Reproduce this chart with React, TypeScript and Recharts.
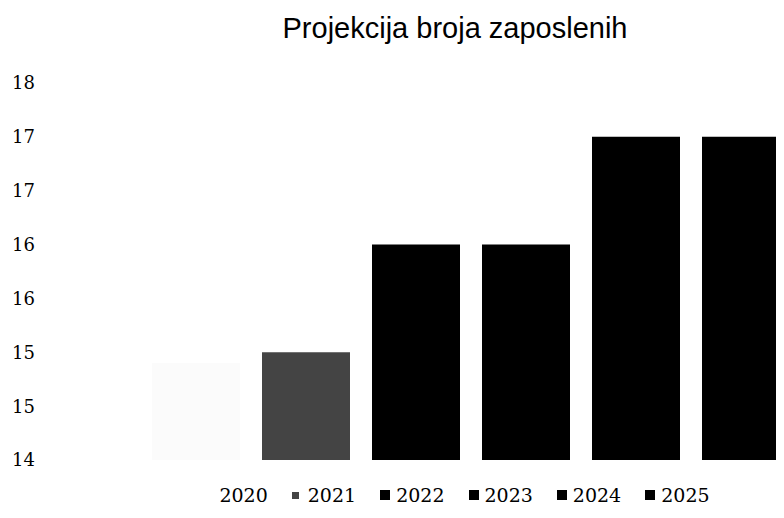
import React from 'react';
import { BarChart, Bar, XAxis, YAxis, Legend } from 'recharts';

// Podaci sa grafikona
const years = ['2020', '2021', '2022', '2023', '2024', '2025'];
const employees = [14.9, 15, 16, 16, 17, 17];
const barColors = ['#fbfbfb', '#444444', '#000000', '#000000', '#000000', '#000000'];
const legendColors = ['#ffffff', '#444444', '#000000', '#000000', '#000000', '#000000'];
const yTicks = [14, 14.5, 15, 15.5, 16, 16.5, 17, 17.5];

const title = 'Projekcija broja zaposlenih';

// jedan red, svaka godina je posebna serija
const row: Record<string, string | number> = { name: 'Zaposleni' };
years.forEach((y, i) => {
  row[y] = employees[i];
});
const data = [row];

const serif = '"DejaVu Serif", serif';

// Legenda bez visine da ne pomjera grafikon
const renderLegend = () => (
  <div style={{ position: 'relative', height: 0 }}>
    <div
      style={{
        position: 'absolute',
        top: 24,
        left: 0,
        width: '100%',
        paddingLeft: 14,
        boxSizing: 'border-box',
        display: 'flex',
        justifyContent: 'center',
        fontFamily: serif,
        fontSize: 19,
        lineHeight: '22px',
        color: '#000',
      }}
    >
      {years.map((y, i) => (
        <div key={y} style={{ display: 'flex', alignItems: 'center', marginRight: i < years.length - 1 ? 24 : 0 }}>
          <span
            style={{
              display: 'inline-block',
              width: i === 1 ? 7 : 10,
              height: i === 1 ? 7 : 10,
              background: legendColors[i],
              marginRight: i === 1 ? 9 : 6,
            }}
          />
          <span>{y}</span>
        </div>
      ))}
    </div>
  </div>
);

export default function App() {
  return (
    <div style={{ margin: -8, width: 784, height: 518, overflow: 'hidden', position: 'relative', background: '#fff' }}>
      <div
        style={{
          position: 'absolute',
          top: 11,
          left: 0,
          width: 910,
          textAlign: 'center',
          fontFamily: '"Liberation Sans", Arial, sans-serif',
          fontSize: 29,
          lineHeight: '34px',
          color: '#000',
        }}
      >
        {title}
      </div>
      <BarChart
        width={910}
        height={518}
        data={data}
        margin={{ top: 83, right: 11, left: 0, bottom: 58 }}
        barSize={88}
        barGap={22}
      >
        <XAxis dataKey="name" hide />
        <YAxis
          width={43}
          domain={[14, 17.5]}
          ticks={yTicks}
          axisLine={false}
          tickLine={false}
          tickFormatter={(v: number) => String(Math.round(v))}
          tick={{ fontSize: 18, fontFamily: serif, fill: '#000' }}
        />
        <Legend verticalAlign="bottom" content={renderLegend} />
        {years.map((y, i) => (
          <Bar key={y} dataKey={y} fill={barColors[i]} isAnimationActive={false} />
        ))}
      </BarChart>
    </div>
  );
}
